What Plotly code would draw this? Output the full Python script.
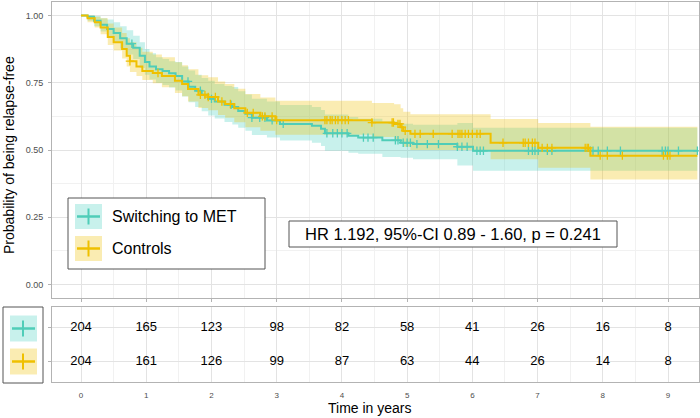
import numpy as np
import plotly.graph_objects as go

W, H = 700, 418
FONT = "Liberation Sans, Arial, Helvetica, sans-serif"

# ---------------- data ----------------
groups = ["Switching to MET", "Controls"]

# Switching to MET (teal)
t_met = [0, 0.1, 0.2, 0.3, 0.4, 0.5, 0.6, 0.7, 0.8, 0.9, 0.98, 1.05, 1.15, 1.25, 1.35, 1.45,
         1.55, 1.65, 1.75, 1.85, 1.95, 2.05, 2.2, 2.32, 2.41, 2.52, 2.62, 2.85, 3.05, 3.54,
         3.68, 3.74, 4.1, 4.25, 4.62, 4.9, 5.09, 5.77, 6.01, 9.45]
s_met = [1, .995, .98, .965, .95, .935, .915, .895, .88, .85, .827, .81, .80, .794, .785, .775,
         .755, .735, .72, .705, .69, .68, .668, .66, .645, .635, .62, .61, .597, .59,
         .579, .562, .553, .546, .536, .527, .522, .512, .497, .497]
u_met = [1, 1, .998, .99, .985, .975, .96, .945, .925, .9, .875, .86, .845, .838, .83, .827,
         .81, .795, .78, .768, .757, .745, .738, .734, .718, .706, .69, .68, .667, .66,
         .649, .632, .623, .616, .606, .598, .594, .60, .583, .583]
l_met = [1, .98, .96, .94, .92, .9, .877, .855, .838, .805, .78, .762, .75, .742, .732, .721,
         .699, .677, .66, .644, .628, .617, .604, .595, .583, .572, .556, .546, .535, .527,
         .515, .497, .49, .486, .474, .471, .466, .442, .423, .423]
c_met = [0.78, 1.64, 1.83, 2.0, 2.3, 2.62, 2.74, 2.82, 2.93, 3.1, 3.77, 3.86, 3.93, 4.0, 4.08,
         4.33, 4.4, 4.48, 4.82, 4.86, 4.94, 5.0, 5.05, 5.15, 5.31, 5.48, 5.77, 5.84, 5.92,
         6.07, 6.12, 6.17, 6.86, 6.92, 6.96, 7.01, 7.15, 7.22, 7.81, 7.85, 7.93, 8.07, 8.27,
         8.91, 8.96, 9.0, 9.16, 9.45]

# Controls (yellow)
t_ctl = [0, 0.1, 0.21, 0.3, 0.41, 0.5, 0.63, 0.7, 0.75, 0.85, 0.94, 1.1, 1.24, 1.44, 1.55,
         1.64, 1.8, 1.95, 2.1, 2.21, 2.35, 2.52, 2.75, 2.98, 4.46, 4.8, 4.9, 4.94, 5.05,
         6.28, 7.01, 7.81, 9.45]
s_ctl = [1, .99, .975, .955, .92, .9, .875, .85, .83, .81, .794, .786, .775, .757, .745,
         .727, .705, .697, .68, .671, .655, .638, .625, .611, .602, .597, .585, .571, .56,
         .527, .508, .479, .479]
u_ctl = [1, 1, .995, .99, .97, .955, .935, .915, .9, .88, .865, .855, .845, .826, .815,
         .80, .778, .77, .755, .745, .728, .708, .695, .683, .675, .67, .655, .642, .633,
         .615, .60, .586, .586]
l_ctl = [1, .975, .955, .93, .89, .87, .84, .81, .79, .775, .76, .748, .733, .712, .70,
         .68, .656, .648, .63, .62, .603, .585, .572, .557, .548, .54, .527, .512, .50,
         .466, .434, .39, .39]
c_ctl = [0.75, 1.18, 1.83, 1.9, 1.95, 2.06, 2.16, 2.29, 2.55, 2.64, 2.78, 2.82, 2.93, 3.0,
         3.74, 3.77, 3.82, 3.85, 3.9, 3.94, 4.0, 4.05, 4.1, 4.46, 4.77, 4.79, 4.86, 4.89,
         4.92, 4.97, 5.12, 5.2, 5.4, 5.69, 5.78, 5.81, 5.84, 5.89, 5.94, 6.0, 6.07, 6.12,
         6.47, 6.78, 6.81, 6.86, 6.92, 6.96, 7.07, 7.15, 7.22, 7.73, 7.76, 7.78, 7.96, 8.07,
         8.3, 8.93, 8.99, 9.03]

# number at risk table
risk_times = [0, 1, 2, 3, 4, 5, 6, 7, 8, 9]
risk_met = [204, 165, 123, 98, 82, 58, 41, 26, 16, 8]
risk_ctl = [204, 161, 126, 99, 87, 63, 44, 26, 14, 8]

y_ticks = [0, 0.25, 0.5, 0.75, 1.0]
y_ticktext = ["0.00", "0.25", "0.50", "0.75", "1.00"]
hr_text = "HR 1.192, 95%-CI 0.89 - 1.60, p = 0.241"

# ---------------- style ----------------
TEAL = "#4FCDB8"
TEAL_FILL = "rgba(72,209,192,0.30)"
YEL = "#EFC000"
YEL_FILL = "rgba(239,192,0,0.30)"
BORDER = "#B3B3B3"
GRID = "#E3E3E3"
GRID_MINOR = "#F1F1F1"
TICKTXT = "#4D4D4D"


def X(px):
    return px / W


def Y(py):
    return 1 - py / H


def step_at(times, surv, t):
    times = np.asarray(times)
    idx = np.searchsorted(times, t, side="right") - 1
    return np.asarray(surv)[idx]


fig = go.Figure()

series = [
    (t_met, s_met, u_met, l_met, c_met, TEAL, TEAL_FILL),
    (t_ctl, s_ctl, u_ctl, l_ctl, c_ctl, YEL, YEL_FILL),
]

# bands
for t, s, u, l, c, col, fcol in series:
    fig.add_trace(go.Scatter(x=t, y=u, mode="lines", line=dict(width=0, shape="hv"),
                             hoverinfo="skip", showlegend=False, xaxis="x", yaxis="y"))
    fig.add_trace(go.Scatter(x=t, y=l, mode="lines", line=dict(width=0, shape="hv"),
                             fill="tonexty", fillcolor=fcol,
                             hoverinfo="skip", showlegend=False, xaxis="x", yaxis="y"))

# curves + censor marks
for t, s, u, l, c, col, fcol in series:
    fig.add_trace(go.Scatter(x=t, y=s, mode="lines", line=dict(width=2, color=col, shape="hv"),
                             showlegend=False, xaxis="x", yaxis="y"))
    fig.add_trace(go.Scatter(x=c, y=step_at(t, s, np.asarray(c)), mode="markers",
                             marker=dict(symbol="cross-thin", size=6,
                                         line=dict(width=1.3, color=col)),
                             showlegend=False, xaxis="x", yaxis="y"))

# risk table
fig.add_trace(go.Scatter(x=risk_times, y=[2] * len(risk_times), mode="text",
                         text=[str(v) for v in risk_met],
                         textfont=dict(size=13, color="black", family=FONT),
                         showlegend=False, xaxis="x2", yaxis="y2"))
fig.add_trace(go.Scatter(x=risk_times, y=[1] * len(risk_times), mode="text",
                         text=[str(v) for v in risk_ctl],
                         textfont=dict(size=13, color="black", family=FONT),
                         showlegend=False, xaxis="x2", yaxis="y2"))

xr = [-0.445, 9.475]
common_x = dict(range=xr, dtick=1, tick0=0, showline=True, mirror=True, linecolor=BORDER,
                linewidth=1, showgrid=True, gridcolor=GRID, gridwidth=1, zeroline=False,
                minor=dict(dtick=0.5, tick0=0, showgrid=True, gridcolor=GRID_MINOR, gridwidth=1),
                automargin=False, domain=[X(52), X(699)])

fig.update_layout(
    width=W, height=H, autosize=False,
    margin=dict(l=0, r=0, t=0, b=0, pad=0),
    paper_bgcolor="white", plot_bgcolor="white",
    font=dict(family=FONT, color="black"),
    xaxis=dict(**common_x, anchor="y", showticklabels=False, ticks="outside", ticklen=3,
               tickcolor=BORDER, tickwidth=1),
    yaxis=dict(range=[-0.05, 1.05], domain=[Y(298), Y(2)], tickvals=y_ticks,
               ticktext=y_ticktext, ticks="outside", ticklen=3, tickcolor=BORDER,
               tickfont=dict(size=9, color=TICKTXT), showline=True, mirror=True,
               linecolor=BORDER, linewidth=1, showgrid=True, gridcolor=GRID, zeroline=False,
               minor=dict(tickvals=[0.125, 0.375, 0.625, 0.875], showgrid=True,
                          gridcolor=GRID_MINOR),
               automargin=False, anchor="x", ticklabelstandoff=3),
    xaxis2=dict(**common_x, anchor="y2", showticklabels=True, ticks="outside", ticklen=3,
                tickcolor="rgba(0,0,0,0)", tickfont=dict(size=8, color=TICKTXT),
                ticklabelstandoff=2),
    yaxis2=dict(range=[0.4, 2.6], domain=[Y(382), Y(307)], tickvals=[1, 2],
                showticklabels=False, ticks="outside", ticklen=3, tickcolor=BORDER,
                showline=True, mirror=True, linecolor=BORDER, linewidth=1,
                showgrid=True, gridcolor=GRID, zeroline=False, automargin=False, anchor="x2"),
)

shapes = []
annotations = []

# main legend box
shapes.append(dict(type="rect", xref="paper", yref="paper", x0=X(68), x1=X(265),
                   y0=Y(269), y1=Y(198), line=dict(color="#555555", width=1),
                   fillcolor="white", layer="above"))
for (ky, col, fcol, label) in [(216.5, TEAL, TEAL_FILL, groups[0]),
                               (248.5, YEL, YEL_FILL, groups[1])]:
    shapes.append(dict(type="rect", xref="paper", yref="paper", x0=X(75), x1=X(102),
                       y0=Y(ky + 12.5), y1=Y(ky - 12.5), line=dict(width=0),
                       fillcolor=fcol, layer="above"))
    shapes.append(dict(type="line", xref="paper", yref="paper", x0=X(77), x1=X(100),
                       y0=Y(ky), y1=Y(ky), line=dict(color=col, width=2.5), layer="above"))
    shapes.append(dict(type="line", xref="paper", yref="paper", x0=X(88.5), x1=X(88.5),
                       y0=Y(ky - 8), y1=Y(ky + 8), line=dict(color=col, width=2), layer="above"))
    annotations.append(dict(xref="paper", yref="paper", x=X(110), y=Y(ky), text=label,
                            showarrow=False, xanchor="left", yanchor="middle",
                            font=dict(size=16, color="black", family=FONT)))

# HR box
shapes.append(dict(type="rect", xref="paper", yref="paper", x0=X(289), x1=X(617),
                   y0=Y(247), y1=Y(221), line=dict(color="#555555", width=1),
                   fillcolor="white", layer="above"))
annotations.append(dict(xref="paper", yref="paper", x=X(453), y=Y(234), text=hr_text,
                        showarrow=False, xanchor="center", yanchor="middle",
                        font=dict(size=16.5, color="black", family=FONT)))

# risk table legend box
shapes.append(dict(type="rect", xref="paper", yref="paper", x0=X(3), x1=X(43),
                   y0=Y(383), y1=Y(307), line=dict(color="#555555", width=1),
                   fillcolor="white", layer="above"))
for (ky, col, fcol) in [(328.5, TEAL, TEAL_FILL), (361.5, YEL, YEL_FILL)]:
    shapes.append(dict(type="rect", xref="paper", yref="paper", x0=X(10), x1=X(37),
                       y0=Y(ky + 13), y1=Y(ky - 13), line=dict(width=0),
                       fillcolor=fcol, layer="above"))
    shapes.append(dict(type="line", xref="paper", yref="paper", x0=X(12), x1=X(35),
                       y0=Y(ky), y1=Y(ky), line=dict(color=col, width=2.5), layer="above"))
    shapes.append(dict(type="line", xref="paper", yref="paper", x0=X(23), x1=X(23),
                       y0=Y(ky - 8), y1=Y(ky + 8), line=dict(color=col, width=2), layer="above"))

# axis titles
annotations.append(dict(xref="paper", yref="paper", x=X(9), y=Y(155),
                        text="Probability of being relapse-free", textangle=-90,
                        showarrow=False, xanchor="center", yanchor="middle",
                        font=dict(size=14, color="black", family=FONT)))
annotations.append(dict(xref="paper", yref="paper", x=X(370), y=Y(408),
                        text="Time in years", showarrow=False, xanchor="center",
                        yanchor="middle", font=dict(size=14, color="black", family=FONT)))

fig.update_layout(shapes=shapes, annotations=annotations)

fig.write_html("out.html", config={"displayModeBar": False},
               post_script="document.body.style.margin='0';document.body.style.overflow='hidden';")
